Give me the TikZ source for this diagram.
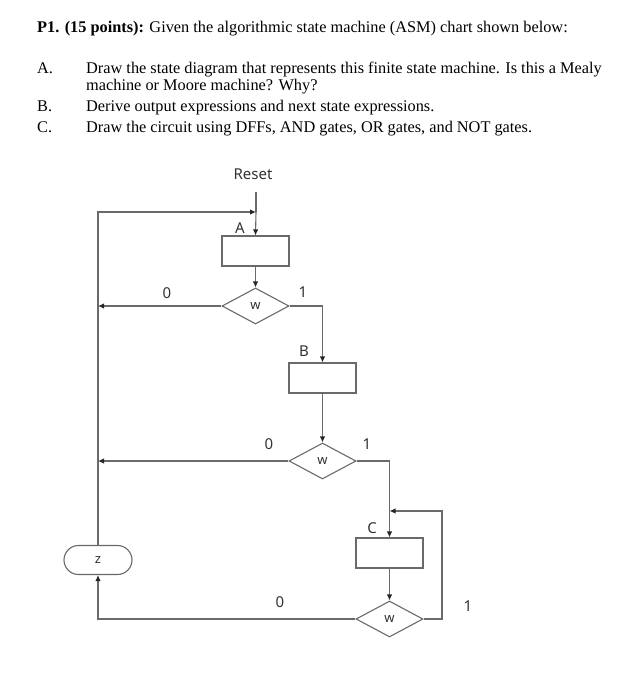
\documentclass[tikz,border=0pt]{standalone}
\usepackage{fontspec}
\setmainfont{Liberation Serif}
\newfontfamily\chartfont{Noto Sans}
\usetikzlibrary{arrows.meta,shapes.geometric,shapes.misc}
\definecolor{lin}{HTML}{6A6A6A}
\definecolor{txt}{HTML}{333333}
\begin{document}
\begin{tikzpicture}[x=1pt,y=-1pt,
  flow/.style={draw=lin,line width=1.1pt},
  arr/.style={flow,-{Latex[length=6pt,width=5.5pt,color=black!85]}},
  statebox/.style={draw=lin,line width=1.1pt,minimum width=67pt,minimum height=30pt,inner sep=0pt},
  decide/.style={diamond,draw=lin,line width=1.1pt,minimum width=67pt,minimum height=36pt,inner sep=0pt,aspect=1.86,font=\chartfont\fontsize{13}{13}\selectfont,text=txt},
  outbox/.style={rounded rectangle,draw=lin,line width=1.1pt,minimum width=68pt,minimum height=29pt,inner sep=0pt,font=\chartfont\fontsize{13}{13}\selectfont,text=txt},
  lab/.style={font=\chartfont\fontsize{15}{15}\selectfont,text=txt,inner sep=0pt},
  hd/.style={anchor=base west,inner sep=0pt,font=\fontsize{16.3}{18}\selectfont}]
\useasboundingbox (0,0) rectangle (623,700);
% header
\node[hd] (title) at (37,33) {\textbf{P1. (15 points):} Given the algorithmic state machine (ASM) chart shown below:};
\node[hd] (la) at (37,74) {A.};
\node[hd] (ta) at (86,74) {Draw the state diagram that represents this finite state machine. Is this a Mealy};
\node[hd] (ta2) at (86,91) {machine or Moore machine? Why?};
\node[hd] (lb) at (37,112) {B.};
\node[hd] (tb) at (86,112) {Derive output expressions and next state expressions.};
\node[hd] (lc) at (37,133) {C.};
\node[hd] (tc) at (86,133) {Draw the circuit using DFFs, AND gates, OR gates, and NOT gates.};
% chart
\node[lab] (reset) at (253,174) {Reset};
\coordinate (rtop) at (256,192);
\coordinate (join) at (256,212);
\node[statebox] (A) at (255.5,251) {};
\node[lab] (Al) at (240,228) {A};
\node[decide] (d1) at (255.5,306) {w};
\node[lab] (d1z) at (167,293) {0};
\node[lab] (d1o) at (303,292) {1};
\node[statebox] (B) at (322.5,378) {};
\node[lab] (Bl) at (304,351) {B};
\node[decide] (d2) at (322.5,461) {w};
\node[lab] (d2z) at (269,444) {0};
\node[lab] (d2o) at (367,444) {1};
\node[statebox] (C) at (389.5,553) {};
\node[lab] (Cl) at (372,528) {C};
\coordinate (cjoin) at (389.5,511);
\node[decide] (d3) at (389.5,619) {w};
\node[lab] (d3z) at (280,602) {0};
\node[lab] (d3o) at (468,606) {1};
\node[outbox] (Z) at (98,560) {z};
\coordinate (lbus1) at (98,306);
\coordinate (lbus2) at (98,461);
\coordinate (loopr) at (442,619);
% connectors
\draw[flow] (rtop) -- (join);
\draw[arr] (join) -- (A.north);
\draw[arr] (Z.north) |- (join);
\draw[arr] (A.south) -- (d1.north);
\draw[arr] (d1.west) -- (lbus1);
\draw[arr] (d1.east) -| (B.north);
\draw[arr] (B.south) -- (d2.north);
\draw[arr] (d2.west) -- (lbus2);
\draw[flow] (d2.east) -| (cjoin);
\draw[arr] (cjoin) -- (C.north);
\draw[arr] (C.south) -- (d3.north);
\draw[arr] (d3.east) -- (loopr) |- (cjoin);
\draw[arr] (d3.west) -| (Z.south);
\end{tikzpicture}
\end{document}
